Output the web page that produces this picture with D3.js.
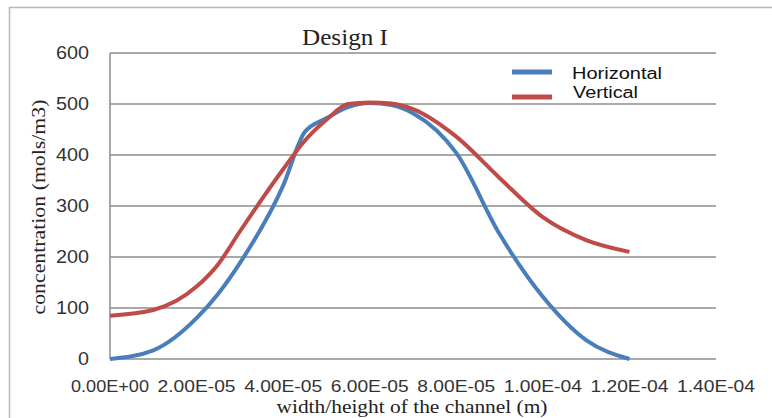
<!DOCTYPE html>
<html><head><meta charset="utf-8">
<script src="https://cdn.jsdelivr.net/npm/d3@7"></script>
<style>body{margin:0;background:#fff}</style>
</head><body>
<svg id="c" width="772" height="418"></svg>
<script>
const xValues = [0,1e-5,2e-5,2.5e-5,3e-5,4e-5,4.5e-5,5e-5,5.5e-5,6e-5,6.5e-5,7e-5,8e-5,9e-5,1e-4,1.1e-4,1.2e-4];
const horizontal = [0,17,80,128,188,340,445,472,494,502,498,482,404,245,122,37,0];
const vertical = [85,96,142,186,250,372,428,469,500,503,501,490,436,355,278,233,210];
const xTicks = [0,2e-5,4e-5,6e-5,8e-5,1e-4,1.2e-4,1.4e-4];
const xTickLabels = ["0.00E+00","2.00E-05","4.00E-05","6.00E-05","8.00E-05","1.00E-04","1.20E-04","1.40E-04"];
const yTicks = [0,100,200,300,400,500,600];
const seriesNames = ["Horizontal","Vertical"];
const seriesColors = ["#4a7ebb","#be4b48"];

const svg = d3.select("#c");
const m = {l:110, r:716, t:53, b:359};
const x = d3.scaleLinear().domain([0,1.4e-4]).range([m.l,m.r]);
const y = d3.scaleLinear().domain([0,600]).range([m.b,m.t]);
const sans = "Liberation Sans, Arial, sans-serif";
const serif = "Liberation Serif, Times New Roman, serif";

// outer frame
svg.append("rect").attr("x",9.5).attr("y",7.5).attr("width",800).attr("height",500)
  .attr("fill","none").attr("stroke","#b8b8b8").attr("stroke-width",1.5);

// gridlines
svg.append("g").selectAll("line").data(yTicks).join("line")
  .attr("x1",m.l).attr("x2",m.r).attr("y1",d=>y(d)).attr("y2",d=>y(d))
  .attr("stroke","#8c8c8c").attr("stroke-width",1.5);
svg.append("line").attr("x1",m.l).attr("x2",m.l).attr("y1",m.t).attr("y2",m.b)
  .attr("stroke","#8c8c8c").attr("stroke-width",1.5);

// y tick labels
svg.append("g").selectAll("text").data(yTicks).join("text")
  .attr("x",89).attr("y",d=>y(d)).attr("dy","0.36em").attr("text-anchor","end")
  .attr("font-family",sans).attr("font-size",17.5).attr("fill","#333")
  .attr("textLength",d=>String(d).length*11).attr("lengthAdjust","spacingAndGlyphs")
  .text(d=>d);

// x tick labels
svg.append("g").selectAll("text").data(xTicks).join("text")
  .attr("x",d=>x(d)).attr("y",392).attr("text-anchor","middle")
  .attr("font-family",sans).attr("font-size",16.5).attr("fill","#333")
  .attr("textLength",78).attr("lengthAdjust","spacingAndGlyphs")
  .text((d,i)=>xTickLabels[i]);

// title
svg.append("text").attr("x",345).attr("y",45).attr("text-anchor","middle")
  .attr("font-family",serif).attr("font-size",23).attr("fill","#222")
  .attr("textLength",86).attr("lengthAdjust","spacingAndGlyphs")
  .text("Design I");

// axis titles
svg.append("text").attr("transform","translate(45,207) rotate(-90)").attr("text-anchor","middle")
  .attr("font-family",serif).attr("font-size",19).attr("fill","#222")
  .attr("textLength",215).attr("lengthAdjust","spacingAndGlyphs")
  .text("concentration (mols/m3)");
svg.append("text").attr("x",412).attr("y",413).attr("text-anchor","middle")
  .attr("font-family",serif).attr("font-size",19.5).attr("fill","#222")
  .attr("textLength",271).attr("lengthAdjust","spacingAndGlyphs")
  .text("width/height of the channel (m)");

// lines
const line = d3.line().x((d,i)=>x(xValues[i])).y(d=>y(d)).curve(d3.curveMonotoneX);
[horizontal, vertical].forEach((s,k)=>{
  svg.append("path").attr("d",line(s)).attr("fill","none")
    .attr("stroke",seriesColors[k]).attr("stroke-width",4).attr("stroke-linejoin","round");
});

// legend
const lg = svg.append("g");
const legendText = [{x:572,y:79,w:90},{x:573,y:98,w:65}];
seriesNames.forEach((n,k)=>{
  const ly = 72 + k*25;
  lg.append("line").attr("x1",512).attr("x2",552).attr("y1",ly).attr("y2",ly)
    .attr("stroke",seriesColors[k]).attr("stroke-width",5);
  lg.append("text").attr("x",legendText[k].x).attr("y",legendText[k].y)
    .attr("font-family",sans).attr("font-size",16).attr("fill","#111")
    .attr("textLength",legendText[k].w).attr("lengthAdjust","spacingAndGlyphs").text(n);
});
</script>
</body></html>
